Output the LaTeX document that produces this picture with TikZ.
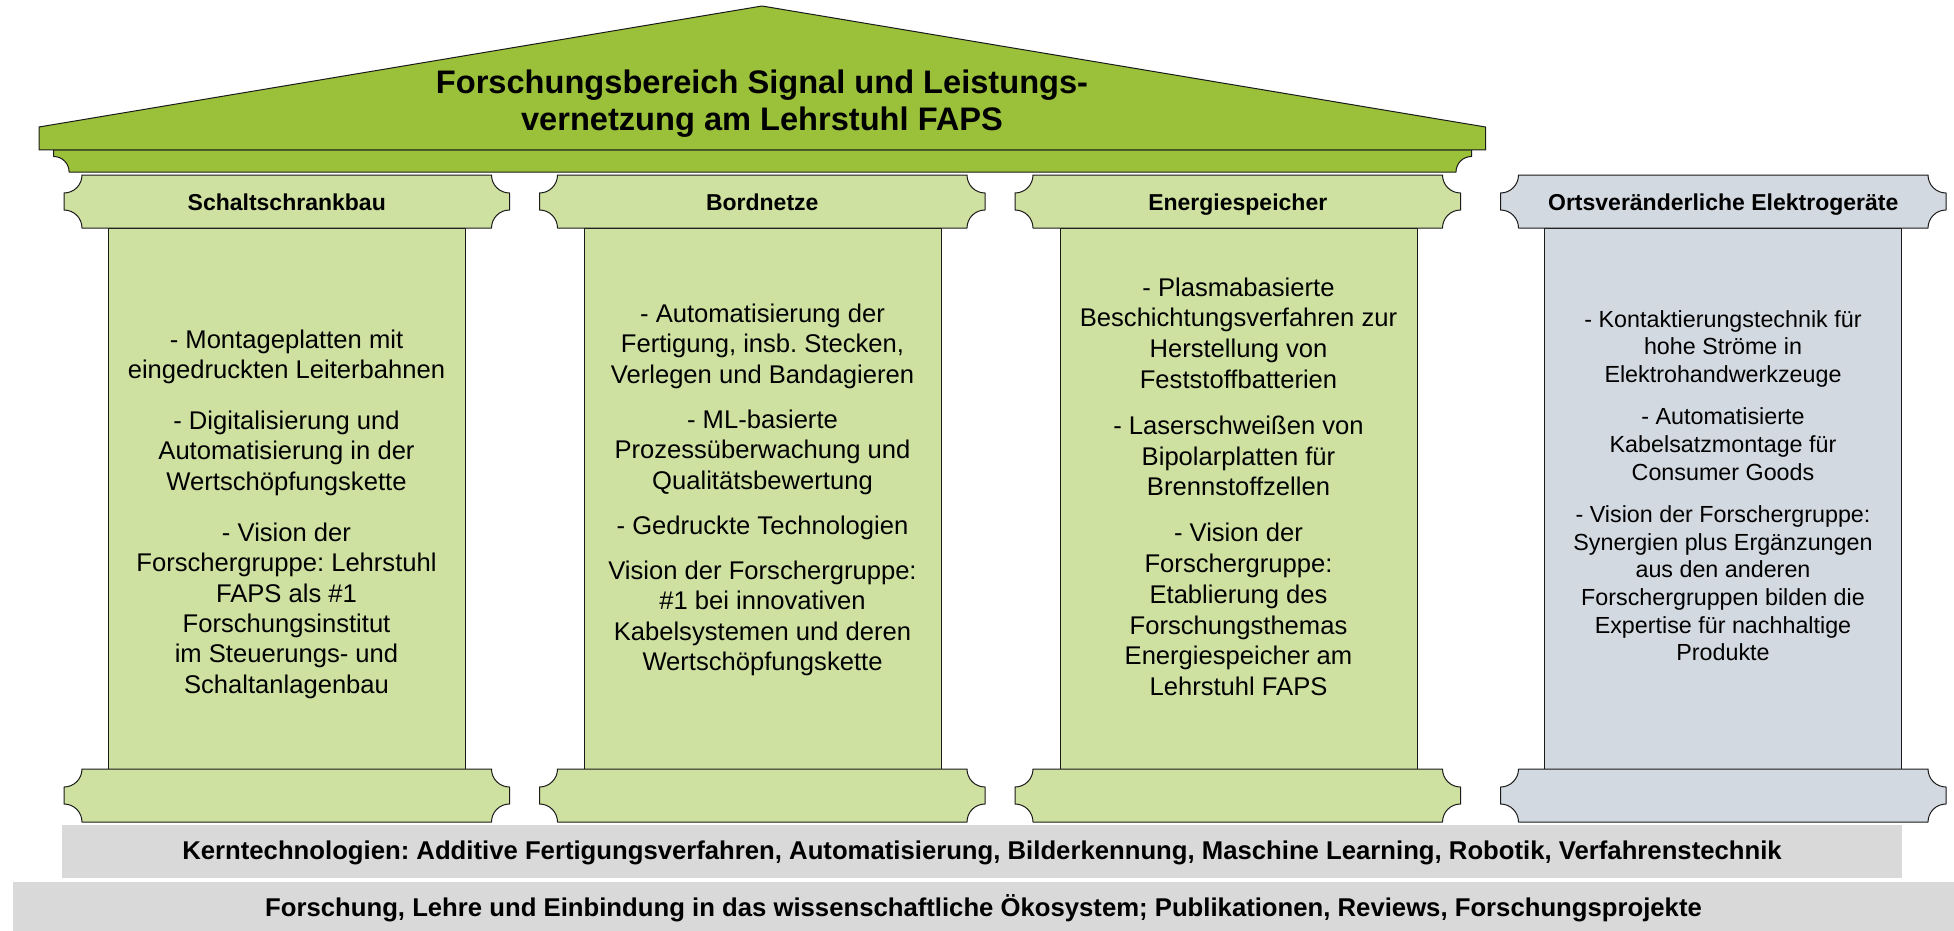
\documentclass[tikz,border=0pt]{standalone}
\usepackage{fontspec}
\setmainfont{Liberation Sans}
\frenchspacing
\definecolor{roofgreen}{HTML}{9BC13B}
\definecolor{lightgreen}{HTML}{CFE1A1}
\definecolor{greyblue}{HTML}{D3D9E0}
\definecolor{bandgrey}{HTML}{D9D9D9}
\definecolor{linecol}{HTML}{1A1A1A}
\newcommand{\mkplaque}[3]{%
  \pgfmathsetmacro{\pqL}{#2}\pgfmathsetmacro{\pqT}{#3}%
  \pgfmathsetmacro{\pqR}{#2+445.5}\pgfmathsetmacro{\pqB}{#3+53}%
  \draw[#1] (\pqL+18,\pqT) -- (\pqR-18,\pqT)
    .. controls (\pqR-18,\pqT+9.94) and (\pqR-9.94,\pqT+18) .. (\pqR,\pqT+18)
    -- (\pqR,\pqB-18)
    .. controls (\pqR-9.94,\pqB-18) and (\pqR-18,\pqB-9.94) .. (\pqR-18,\pqB)
    -- (\pqL+18,\pqB)
    .. controls (\pqL+18,\pqB-9.94) and (\pqL+9.94,\pqB-18) .. (\pqL,\pqB-18)
    -- (\pqL,\pqT+18)
    .. controls (\pqL+9.94,\pqT+18) and (\pqL+18,\pqT+9.94) .. cycle;}
\tikzset{
  outl/.style={draw=linecol, line width=1pt, line join=round},
  greenpart/.style={outl, fill=lightgreen},
  greypart/.style={outl, fill=greyblue},
  roofpart/.style={outl, fill=roofgreen},
  band/.style={fill=bandgrey, draw=none},
  captext/.style={inner sep=0pt, anchor=base, font=\bfseries\fontsize{23}{27}\selectfont},
  bandtext/.style={inner sep=0pt, anchor=base, font=\bfseries\fontsize{25.7}{30}\selectfont},
  bodytext/.style={inner sep=0pt, anchor=base},
}
\begin{document}
\begin{tikzpicture}[x=1pt,y=-1pt]
\useasboundingbox (0,0) rectangle (1954,931);
% shafts
\draw[greenpart] (108,228) rectangle (465,769);
\draw[greenpart] (584,228) rectangle (941,769);
\draw[greenpart] (1060,228) rectangle (1417,769);
\draw[greypart] (1544.5,228) rectangle (1901.5,769);
% capitals
\mkplaque{greenpart}{64}{175}
\mkplaque{greenpart}{539.5}{175}
\mkplaque{greenpart}{1015}{175}
\mkplaque{greypart}{1500.5}{175}
% bases
\mkplaque{greenpart}{64}{769}
\mkplaque{greenpart}{539.5}{769}
\mkplaque{greenpart}{1015}{769}
\mkplaque{greypart}{1500.5}{769}
% architrave
\draw[roofpart] (53.6,150) -- (1471.5,150) -- (1471.5,156.5)
  .. controls (1462.9,156.5) and (1456,163.4) .. (1456,172)
  -- (69.1,172)
  .. controls (69.1,163.4) and (62.2,156.5) .. (53.6,156.5) -- cycle;
% roof
\draw[roofpart] (39,150) -- (39,127) -- (762,6) -- (1485.5,127) -- (1485.5,150) -- cycle;
% bands
\fill[band] (61.6,825) rectangle (1902,878);
\fill[band] (13.4,882) rectangle (1954,931);
% title
\node[bodytext, font=\bfseries\fontsize{32.6}{37}\selectfont] (title) at (762,94)
  {\begin{tabular}[t]{@{}c@{}}Forschungsbereich Signal und Leistungs-\\vernetzung am Lehrstuhl FAPS\end{tabular}};
% capital labels
\node[captext] (lab1) at (286.75,210.5) {Schaltschrankbau};
\node[captext] (lab2) at (762.25,210.5) {Bordnetze};
\node[captext] (lab3) at (1237.75,210.5) {Energiespeicher};
\node[captext] (lab4) at (1723.25,210.5) {Ortsveränderliche Elektrogeräte};
% column texts
\node[bodytext, font=\fontsize{25.6}{30.4}\selectfont] (txt1) at (286.5,348)
  {\begin{tabular}[t]{@{}c@{}}- Montageplatten mit\\eingedruckten Leiterbahnen\\[20.6pt]
   - Digitalisierung und\\Automatisierung in der\\Wertschöpfungskette\\[20.6pt]
   - Vision der\\Forschergruppe: Lehrstuhl\\FAPS als \#1\\Forschungsinstitut\\im Steuerungs- und\\Schaltanlagenbau\end{tabular}};
\node[bodytext, font=\fontsize{25.6}{30.5}\selectfont] (txt2) at (762.5,322)
  {\begin{tabular}[t]{@{}c@{}}- Automatisierung der\\Fertigung, insb. Stecken,\\Verlegen und Bandagieren\\[14.5pt]
   - ML-basierte\\Prozessüberwachung und\\Qualitätsbewertung\\[14.5pt]
   - Gedruckte Technologien\\[14.5pt]
   Vision der Forschergruppe:\\\#1 bei innovativen\\Kabelsystemen und deren\\Wertschöpfungskette\end{tabular}};
\node[bodytext, font=\fontsize{25.6}{30.8}\selectfont] (txt3) at (1238.5,296)
  {\begin{tabular}[t]{@{}c@{}}- Plasmabasierte\\Beschichtungsverfahren zur\\Herstellung von\\Feststoffbatterien\\[15pt]
   - Laserschweißen von\\Bipolarplatten für\\Brennstoffzellen\\[15pt]
   - Vision der\\Forschergruppe:\\Etablierung des\\Forschungsthemas\\Energiespeicher am\\Lehrstuhl FAPS\end{tabular}};
\node[bodytext, font=\fontsize{23.3}{27.6}\selectfont] (txt4) at (1723,327)
  {\begin{tabular}[t]{@{}c@{}}- Kontaktierungstechnik für\\hohe Ströme in\\Elektrohandwerkzeuge\\[15pt]
   - Automatisierte\\Kabelsatzmontage für\\Consumer Goods\\[15pt]
   - Vision der Forschergruppe:\\Synergien plus Ergänzungen\\aus den anderen\\Forschergruppen bilden die\\Expertise für nachhaltige\\Produkte\end{tabular}};
% band texts
\node[bandtext] (kern) at (982,859) {Kerntechnologien: Additive Fertigungsverfahren, Automatisierung, Bilderkennung, Maschine Learning, Robotik, Verfahrenstechnik};
\node[bandtext] (basis) at (983.5,916) {Forschung, Lehre und Einbindung in das wissenschaftliche Ökosystem; Publikationen, Reviews, Forschungsprojekte};
\end{tikzpicture}
\end{document}
